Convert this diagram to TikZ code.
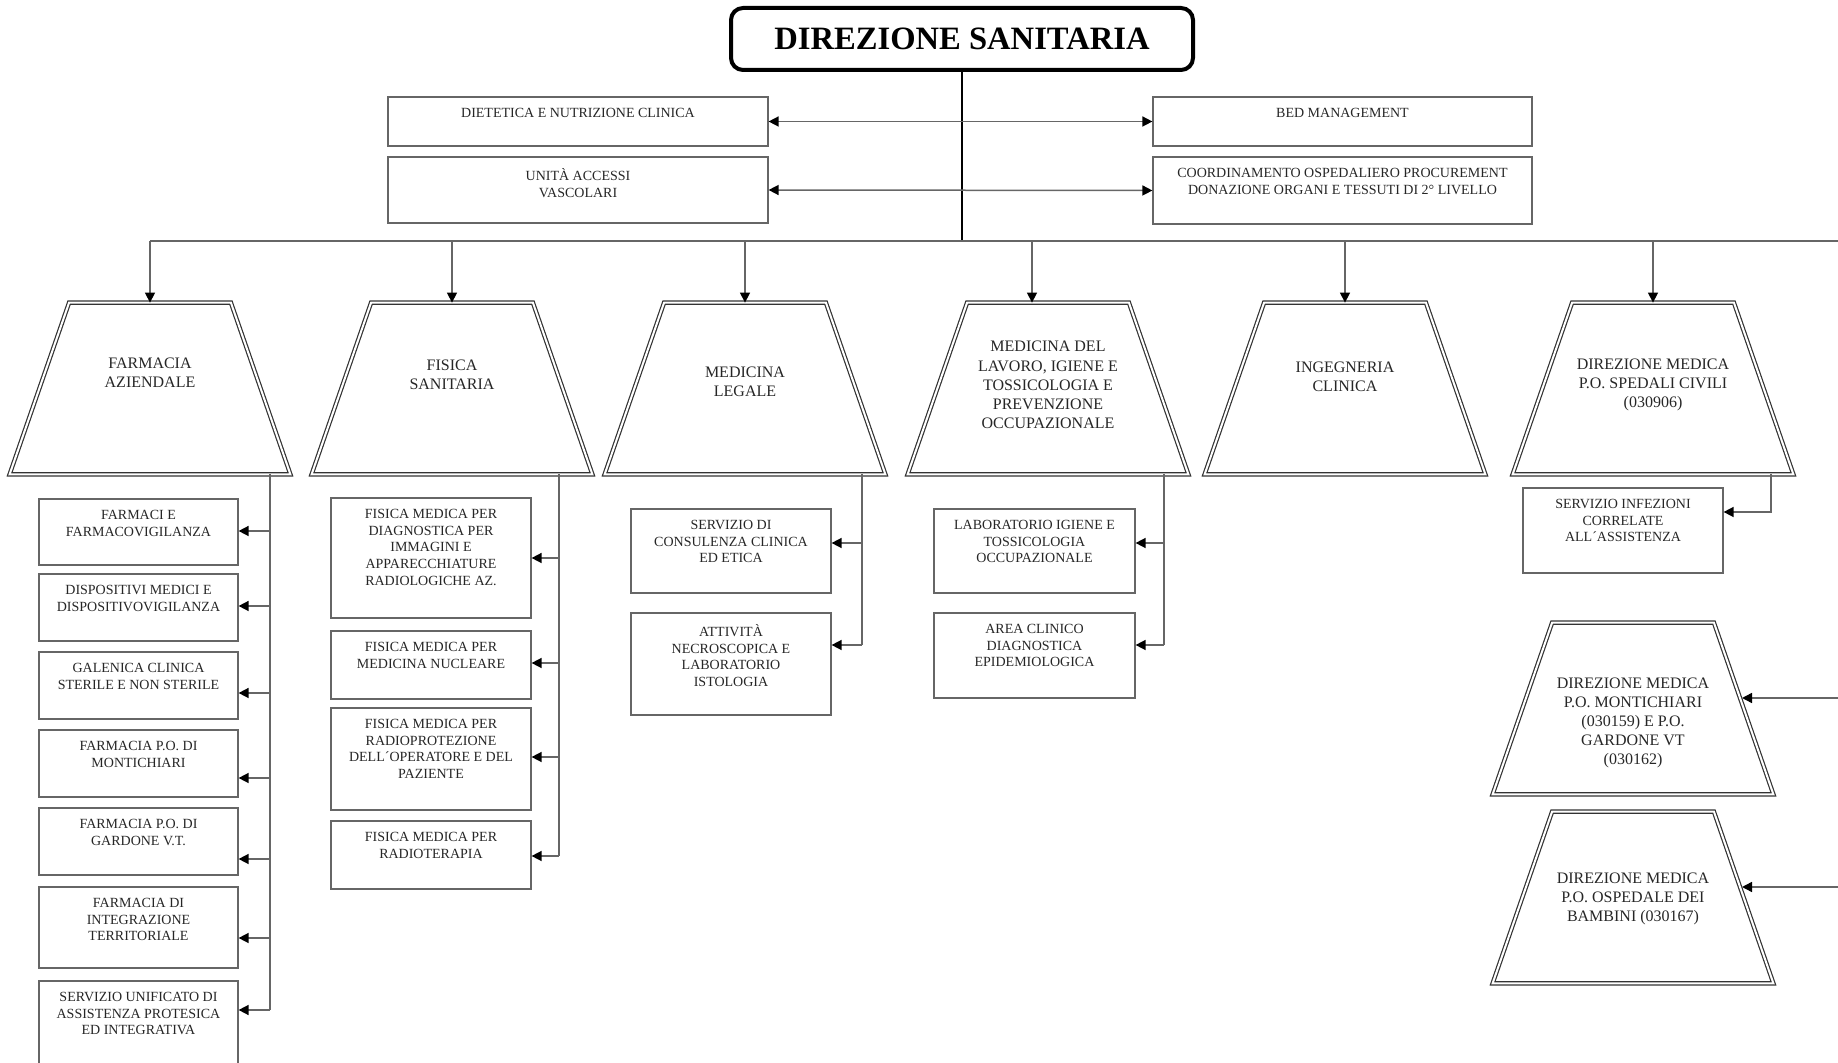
\documentclass[tikz,border=0pt]{standalone}
\usepackage{fontspec}
\setmainfont{Liberation Serif}
\usetikzlibrary{arrows.meta,fit,calc}
\tikzset{
  boxs/.style={draw=black!60, line width=0.6pt, inner sep=0pt, rectangle},
  btxt/.style={font=\fontsize{7}{8.3}\selectfont, align=center, inner sep=0pt, anchor=north, text=black!85},
  tframe/.style={draw=none, inner sep=0pt, rectangle},
  trap/.style={draw=black!80, line width=0.6pt, double=white, double distance=1pt, line join=miter},
  ttxt/.style={font=\fontsize{8}{9.6}\selectfont, align=center, inner sep=0pt, text=black!85},
  conn/.style={draw=black!60, line width=0.75pt},
  arr/.style={conn, -{Triangle[length=5pt,width=5pt,color=black]}},
  darr/.style={conn, {Triangle[length=5pt,width=5pt,color=black]}-{Triangle[length=5pt,width=5pt,color=black]}},
  dstitle/.style={draw=black, line width=2pt, rounded corners=6pt, inner sep=0pt, font=\fontsize{16.3}{18}\selectfont\bfseries},
}
\newcommand\mkbox[6]{%
  \node[boxs, fit={(#2,#3) (#4,#5)}] (#1) {};
  \node[btxt] (#1t) at ([yshift=-5.8pt]#1.north) {#6};
}
\newcommand\mktrap[5]{%
  \node[tframe, fit={({#2-140},#3) ({#2+140},{#3+171})}] (#1) {};
  \draw[trap] (#1.south west) -- (#1.south east) -- ([xshift=-29.75pt]#1.north east) -- ([xshift=29.75pt]#1.north west) -- cycle;
  \node[ttxt] (#1t) at (#2,#4) {#5};
}
\begin{document}
\begin{tikzpicture}[x=0.5pt,y=-0.5pt]
\useasboundingbox (0,0) rectangle (1838,1063);
% title
\node[dstitle, minimum width=231pt, minimum height=31pt] (ds) at (962,39) {DIREZIONE SANITARIA};
% staff boxes
\mkbox{t1}{388}{97}{768}{146}{DIETETICA E NUTRIZIONE CLINICA}
\mkbox{t2}{388}{157}{768}{223}{UNITÀ ACCESSI\\VASCOLARI}
\mkbox{t3}{1153}{97}{1532}{146}{BED MANAGEMENT}
\mkbox{t4}{1153}{157}{1532}{224}{COORDINAMENTO OSPEDALIERO PROCUREMENT\\DONAZIONE ORGANI E TESSUTI DI 2° LIVELLO}
% bus
\coordinate (busL) at (150,241);
\coordinate (busR) at (1838,241);
\draw[conn, draw=black, line width=0.9pt] (ds.south) -- (ds.south |- busL);
\draw[darr] (t1.east) -- (t3.west);
\draw[darr] (t2.east) -- (t4.west);
\draw[conn] (busL) -- (busR);
% trapezoids
\mktrap{farm}{150}{303}{373}{FARMACIA\\AZIENDALE}
\mktrap{fis}{452}{303}{375}{FISICA\\SANITARIA}
\mktrap{mleg}{745}{303}{382}{MEDICINA\\LEGALE}
\mktrap{mlav}{1048}{303}{385}{MEDICINA DEL\\LAVORO, IGIENE E\\TOSSICOLOGIA E\\PREVENZIONE\\OCCUPAZIONALE}
\mktrap{ing}{1345}{303}{377}{INGEGNERIA\\CLINICA}
\mktrap{dms}{1653}{303}{385}{DIREZIONE MEDICA\\P.O. SPEDALI CIVILI\\(030906)}
\mktrap{dmm}{1633}{623}{723}{DIREZIONE MEDICA\\P.O. MONTICHIARI\\(030159) E P.O.\\GARDONE VT\\(030162)}
\mktrap{dmb}{1633}{812}{899}{DIREZIONE MEDICA\\P.O. OSPEDALE DEI\\BAMBINI (030167)}
% bus arrows
\draw[arr] (busL) -- (farm.north);
\draw[arr] (fis.north |- busL) -- (fis.north);
\draw[arr] (mleg.north |- busL) -- (mleg.north);
\coordinate (mlavA) at ([xshift=-8pt]mlav.north);
\draw[arr] (mlavA |- busL) -- (mlavA);
\draw[arr] (ing.north |- busL) -- (ing.north);
\draw[arr] (dms.north |- busL) -- (dms.north);
% farmacia subunits
\mkbox{f1}{39}{499}{238}{565}{FARMACI E\\FARMACOVIGILANZA}
\mkbox{f2}{39}{574}{238}{641}{DISPOSITIVI MEDICI E\\DISPOSITIVOVIGILANZA}
\mkbox{f3}{39}{652}{238}{719}{GALENICA CLINICA\\STERILE E NON STERILE}
\mkbox{f4}{39}{730}{238}{797}{FARMACIA P.O. DI\\MONTICHIARI}
\mkbox{f5}{39}{808}{238}{875}{FARMACIA P.O. DI\\GARDONE V.T.}
\mkbox{f6}{39}{887}{238}{968}{FARMACIA DI\\INTEGRAZIONE\\TERRITORIALE}
\mkbox{f7}{39}{981}{238}{1090}{SERVIZIO UNIFICATO DI\\ASSISTENZA PROTESICA\\ED INTEGRATIVA}
\coordinate (fv) at (270,474);
\coordinate (fvb) at (270,1010);
\draw[conn] (fv) -- (fvb);
\draw[arr] (fv |- 0,531) -- (f1.east |- 0,531);
\draw[arr] (fv |- 0,606) -- (f2.east |- 0,606);
\draw[arr] (fv |- 0,693) -- (f3.east |- 0,693);
\draw[arr] (fv |- 0,778) -- (f4.east |- 0,778);
\draw[arr] (fv |- 0,859) -- (f5.east |- 0,859);
\draw[arr] (fv |- 0,938) -- (f6.east |- 0,938);
\draw[arr] (fvb) -- (f7.east |- fvb);
% fisica subunits
\mkbox{s1}{331}{498}{531}{618}{FISICA MEDICA PER\\DIAGNOSTICA PER\\IMMAGINI E\\APPARECCHIATURE\\RADIOLOGICHE AZ.}
\mkbox{s2}{331}{631}{531}{699}{FISICA MEDICA PER\\MEDICINA NUCLEARE}
\mkbox{s3}{331}{708}{531}{810}{FISICA MEDICA PER\\RADIOPROTEZIONE\\DELL´OPERATORE E DEL\\PAZIENTE}
\mkbox{s4}{331}{821}{531}{889}{FISICA MEDICA PER\\RADIOTERAPIA}
\coordinate (sv) at (559,474);
\coordinate (svb) at (559,856);
\draw[conn] (sv) -- (svb);
\draw[arr] (sv |- 0,558) -- (s1.east |- 0,558);
\draw[arr] (sv |- 0,663) -- (s2.east |- 0,663);
\draw[arr] (sv |- 0,757) -- (s3.east |- 0,757);
\draw[arr] (svb) -- (s4.east |- svb);
% medicina legale subunits
\mkbox{l1}{631}{509}{831}{593}{SERVIZIO DI\\CONSULENZA CLINICA\\ED ETICA}
\mkbox{l2}{631}{613}{831}{715}{ATTIVITÀ\\NECROSCOPICA E\\LABORATORIO\\ISTOLOGIA}
\coordinate (lv) at (862,474);
\coordinate (lvb) at (862,645);
\draw[conn] (lv) -- (lvb);
\draw[arr] (lv |- 0,543) -- (l1.east |- 0,543);
\draw[arr] (lvb) -- (l2.east |- lvb);
% medicina del lavoro subunits
\mkbox{w1}{934}{509}{1135}{593}{LABORATORIO IGIENE E\\TOSSICOLOGIA\\OCCUPAZIONALE}
\mkbox{w2}{934}{613}{1135}{698}{AREA CLINICO\\DIAGNOSTICA\\EPIDEMIOLOGICA}
\coordinate (wv) at (1164,474);
\coordinate (wvb) at (1164,645);
\draw[conn] (wv) -- (wvb);
\draw[arr] (wv |- 0,543) -- (w1.east |- 0,543);
\draw[arr] (wvb) -- (w2.east |- wvb);
% direzione medica subunit
\mkbox{d1}{1523}{488}{1723}{573}{SERVIZIO INFEZIONI\\CORRELATE\\ALL´ASSISTENZA}
\coordinate (dv) at (1771,474);
\draw[arr] (dv) |- (d1.east |- 0,512);
% right side incoming arrows
\coordinate (rin1) at (1838,698);
\coordinate (dmmE) at (1742,698);
\coordinate (rin2) at (1838,887);
\coordinate (dmbE) at (1742,887);
\draw[arr] (rin1) -- (dmmE);
\draw[arr] (rin2) -- (dmbE);
\end{tikzpicture}
\end{document}
